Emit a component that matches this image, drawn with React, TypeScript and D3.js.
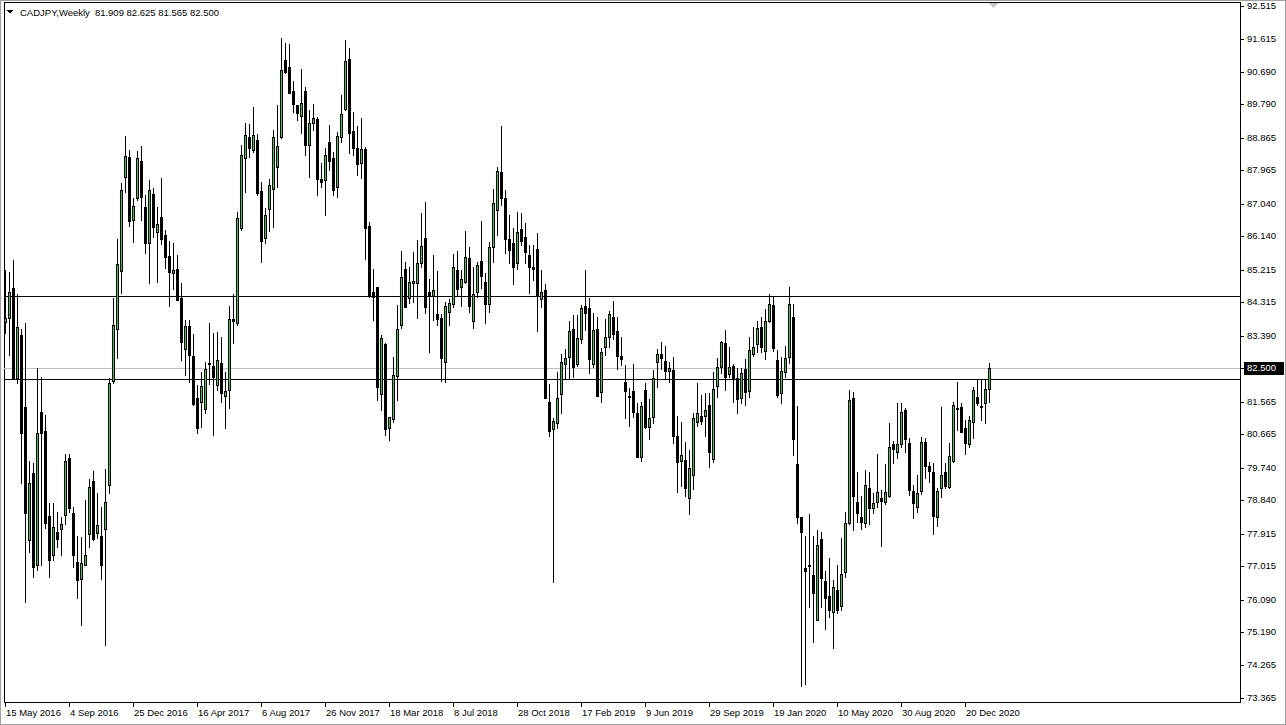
import * as d3 from 'd3'

const WIDTH = 1286
const HEIGHT = 725
const FONT = '"Liberation Sans", Arial, sans-serif'

const SYMBOL = 'CADJPY,Weekly'
const FIRST_WEEK = new Date(2016, 4, 15)

// Weekly OHLC, one entry per bar from 15 May 2016
const OPEN = [
  83.77, 83.89, 84.70, 82.21, 83.41, 81.41, 77.74, 79.60, 77.05, 81.27,
  80.75, 78.40, 77.32, 77.96, 78.03, 78.42, 80.00, 78.48, 77.12, 76.65,
  77.05, 77.90, 79.37, 77.93, 77.85, 78.05, 79.26, 82.15, 83.57, 85.19,
  87.79, 88.34, 86.59, 87.19, 88.23, 86.96, 85.97, 87.31, 86.27, 86.68,
  86.18, 85.60, 85.13, 85.23, 84.43, 83.02, 83.66, 82.84, 81.66, 81.57,
  81.35, 82.64, 82.55, 82.03, 82.63, 81.72, 81.89, 83.85, 83.75, 86.36,
  88.30, 88.90, 88.53, 88.81, 87.40, 86.09, 86.89, 87.44, 88.05, 88.88,
  91.02, 90.84, 90.17, 89.78, 89.47, 90.16, 88.67, 89.27, 89.38, 87.72,
  87.70, 88.74, 88.30, 87.51, 88.88, 89.67, 91.04, 89.06, 88.58, 88.18,
  88.56, 86.43, 84.59, 84.73, 81.78, 83.16, 80.83, 81.08, 82.27, 83.69,
  85.23, 84.43, 84.86, 84.86, 85.41, 86.09, 84.61, 84.49, 83.99, 83.87,
  82.67, 84.05, 84.27, 85.21, 84.75, 84.89, 85.53, 83.81, 84.61, 85.47,
  84.89, 84.26, 85.85, 86.87, 87.92, 87.20, 86.07, 85.97, 85.40, 86.33,
  86.11, 85.62, 85.28, 85.78, 84.40, 84.66, 81.56, 80.80, 80.98, 81.77,
  82.61, 82.81, 83.58, 82.60, 83.29, 84.21, 84.16, 82.62, 83.58, 81.82,
  83.09, 83.35, 83.90, 83.52, 82.83, 82.10, 81.72, 81.86, 81.24, 80.04,
  81.89, 80.86, 81.13, 82.67, 82.88, 82.69, 82.42, 82.44, 80.62, 79.92,
  79.95, 78.89, 79.55, 81.01, 81.17, 81.18, 81.47, 79.98, 82.00, 82.52,
  83.20, 82.32, 82.55, 82.21, 81.66, 82.47, 81.85, 82.89, 83.15, 83.62,
  82.98, 83.81, 84.24, 82.72, 81.80, 82.38, 82.81, 83.90, 79.84, 78.37,
  76.97, 77.05, 76.77, 75.52, 77.76, 76.60, 76.19, 75.74, 76.35, 75.92,
  76.84, 78.20, 81.66, 78.78, 78.38, 78.20, 79.17, 78.61, 78.80, 78.90,
  78.80, 78.95, 80.39, 80.16, 80.39, 81.34, 80.41, 79.09, 78.66, 79.09,
  80.44, 79.79, 79.61, 78.38, 79.17, 79.61, 79.21, 79.92, 81.38, 81.43,
  80.85, 80.39, 80.99, 81.70, 81.45, 81.52, 81.909,
]

const HIGH = [
  85.21, 85.16, 85.49, 84.54, 83.58, 83.73, 79.93, 79.86, 82.51, 82.26,
  81.20, 78.75, 78.75, 78.52, 78.38, 80.12, 80.12, 78.66, 77.85, 77.83,
  78.85, 79.42, 79.65, 79.04, 78.66, 79.69, 82.21, 84.43, 86.06, 87.62,
  88.93, 88.53, 87.19, 88.50, 88.64, 87.29, 87.70, 87.49, 86.94, 87.75,
  86.32, 86.02, 85.95, 85.62, 84.84, 83.83, 83.83, 83.44, 82.03, 82.39,
  82.67, 83.73, 83.46, 83.50, 83.36, 82.39, 84.21, 84.54, 86.82, 88.67,
  89.29, 89.24, 89.71, 88.97, 87.65, 86.92, 87.72, 89.08, 89.78, 91.62,
  91.50, 91.46, 90.45, 89.78, 90.76, 90.28, 89.64, 89.80, 89.45, 88.16,
  88.58, 89.22, 88.48, 89.04, 90.05, 91.57, 91.34, 89.59, 89.19, 89.41,
  88.62, 86.55, 85.23, 84.75, 83.41, 83.18, 81.15, 82.81, 84.24, 85.74,
  85.44, 85.30, 85.72, 86.04, 86.80, 87.10, 84.95, 85.62, 85.18, 83.99,
  84.33, 84.40, 85.65, 85.74, 85.21, 86.30, 85.85, 85.28, 85.44, 86.57,
  85.12, 85.99, 87.44, 88.05, 89.19, 87.42, 86.73, 86.37, 86.81, 86.79,
  86.50, 85.90, 85.90, 86.22, 85.21, 84.82, 82.05, 81.11, 82.39, 82.88,
  83.02, 83.80, 83.96, 83.96, 84.24, 85.21, 84.43, 84.01, 83.92, 83.04,
  83.84, 84.07, 84.35, 83.92, 83.35, 82.57, 81.94, 82.61, 81.54, 81.57,
  82.09, 81.63, 82.44, 83.02, 83.23, 83.11, 82.67, 82.79, 81.17, 80.99,
  80.46, 80.23, 81.24, 82.07, 81.75, 81.80, 81.80, 82.39, 82.77, 83.25,
  83.55, 83.09, 82.61, 82.49, 82.49, 82.75, 83.36, 83.64, 83.81, 83.90,
  84.12, 84.54, 84.45, 83.00, 82.79, 83.11, 84.75, 84.27, 81.45, 78.37,
  77.85, 78.46, 77.85, 78.01, 77.97, 76.89, 77.23, 76.63, 77.05, 77.80,
  78.52, 81.89, 81.84, 79.63, 78.95, 79.67, 79.63, 79.03, 80.12, 79.12,
  79.84, 80.97, 80.47, 81.54, 81.52, 81.38, 80.55, 79.26, 79.54, 80.60,
  80.55, 79.90, 79.86, 79.17, 81.43, 79.86, 80.41, 81.57, 82.10, 81.52,
  81.06, 81.17, 81.98, 82.17, 82.17, 82.17, 82.625,
]

const LOW = [
  83.47, 82.86, 82.21, 82.07, 79.31, 76.03, 77.41, 76.72, 76.91, 77.05,
  78.06, 76.72, 77.18, 77.55, 77.32, 78.18, 78.52, 77.00, 76.12, 75.38,
  77.05, 77.55, 77.74, 77.79, 76.65, 74.83, 79.03, 82.07, 82.77, 84.58,
  87.38, 86.43, 85.99, 87.15, 86.59, 85.69, 84.84, 86.13, 84.89, 85.93,
  85.26, 84.21, 84.67, 84.38, 82.72, 82.30, 82.12, 81.47, 80.69, 80.87,
  81.24, 82.05, 80.64, 81.89, 81.57, 80.83, 81.38, 83.18, 83.69, 86.32,
  87.38, 88.34, 88.48, 87.29, 85.44, 85.95, 86.30, 86.41, 87.51, 88.85,
  90.67, 90.10, 89.59, 89.36, 88.99, 88.39, 87.79, 89.08, 87.29, 87.51,
  86.73, 87.98, 87.29, 87.24, 88.76, 89.64, 88.46, 88.39, 87.84, 87.75,
  85.51, 84.47, 83.83, 81.61, 81.34, 80.64, 80.50, 81.01, 81.61, 83.60,
  84.19, 84.30, 84.33, 83.87, 85.28, 84.01, 82.95, 83.83, 83.69, 82.15,
  82.12, 83.69, 84.18, 84.52, 84.21, 84.86, 84.05, 83.60, 84.47, 84.70,
  83.73, 84.05, 85.44, 86.18, 87.01, 85.68, 85.40, 84.82, 85.24, 85.90,
  85.41, 84.58, 84.93, 83.53, 84.18, 81.66, 80.62, 76.58, 80.83, 81.26,
  82.21, 82.18, 82.24, 82.56, 83.20, 83.55, 82.37, 82.53, 81.73, 81.57,
  82.86, 83.07, 83.30, 82.46, 82.58, 81.10, 80.90, 81.15, 80.04, 79.93,
  80.83, 80.53, 80.97, 81.98, 82.46, 82.18, 82.10, 80.41, 79.06, 79.24,
  78.95, 78.46, 79.15, 80.89, 80.95, 80.62, 79.77, 79.89, 81.70, 82.37,
  81.89, 82.24, 81.57, 81.26, 81.54, 81.47, 81.70, 82.84, 82.95, 82.95,
  82.75, 83.78, 82.97, 81.69, 81.54, 82.24, 82.63, 80.09, 78.20, 73.70,
  73.75, 75.89, 74.92, 75.52, 75.89, 75.27, 75.61, 74.74, 75.73, 75.80,
  76.72, 78.18, 78.01, 78.24, 78.03, 78.11, 78.18, 78.49, 78.64, 77.58,
  78.73, 78.94, 79.86, 80.00, 80.32, 80.18, 78.98, 78.34, 78.52, 79.00,
  79.46, 79.35, 77.89, 78.13, 78.94, 79.17, 79.17, 79.90, 80.78, 80.72,
  80.11, 80.32, 80.55, 81.47, 81.06, 80.97, 81.565,
]

const CLOSE = [
  83.88, 84.59, 82.23, 83.62, 80.69, 78.48, 79.31, 76.98, 80.71, 80.71,
  78.20, 77.18, 78.09, 77.77, 78.18, 79.92, 78.63, 77.32, 76.63, 77.09,
  77.31, 79.20, 77.77, 78.15, 77.05, 78.80, 82.09, 83.69, 85.37, 87.42,
  88.37, 86.57, 86.98, 88.30, 87.22, 85.97, 87.42, 86.41, 86.48, 86.07,
  85.58, 85.16, 85.21, 84.38, 83.23, 83.66, 82.86, 81.50, 80.83, 82.00,
  82.46, 82.61, 82.26, 82.72, 81.81, 81.86, 83.84, 83.79, 86.64, 88.39,
  88.94, 88.58, 88.94, 87.33, 86.02, 86.73, 87.56, 88.88, 88.64, 90.74,
  90.70, 90.10, 89.80, 89.56, 89.84, 88.67, 89.27, 89.41, 87.72, 87.65,
  88.39, 88.23, 87.42, 88.92, 89.53, 90.99, 89.01, 88.58, 88.14, 88.56,
  86.36, 84.52, 84.47, 81.96, 83.32, 80.80, 81.15, 82.30, 83.57, 85.01,
  84.19, 84.89, 84.90, 85.40, 85.87, 84.19, 84.49, 84.66, 83.84, 82.77,
  84.21, 84.30, 85.28, 84.67, 84.95, 85.56, 84.21, 84.54, 85.35, 85.04,
  84.26, 85.85, 87.06, 87.96, 87.20, 86.07, 85.76, 85.28, 86.25, 86.02,
  85.72, 85.28, 85.24, 84.49, 84.60, 81.66, 80.76, 81.03, 81.66, 82.66,
  82.77, 83.51, 82.53, 83.33, 84.15, 84.03, 82.76, 83.55, 81.73, 82.93,
  83.36, 83.99, 83.44, 82.84, 82.74, 81.87, 81.69, 81.29, 80.04, 81.45,
  80.87, 81.11, 82.21, 82.88, 82.78, 82.42, 82.49, 80.62, 79.89, 80.09,
  79.18, 79.72, 81.11, 81.24, 81.04, 81.34, 80.16, 81.92, 82.52, 83.21,
  82.26, 82.52, 82.19, 81.63, 82.35, 81.84, 82.99, 83.07, 83.60, 83.07,
  83.81, 84.26, 83.04, 81.75, 82.41, 82.77, 84.26, 80.52, 78.37, 77.97,
  76.89, 77.03, 76.28, 77.60, 76.68, 76.12, 75.80, 76.45, 75.80, 76.79,
  78.20, 81.61, 78.96, 78.49, 78.24, 79.26, 78.61, 78.75, 79.06, 78.82,
  79.07, 80.30, 80.25, 80.39, 81.27, 80.52, 79.12, 78.75, 79.03, 80.44,
  79.79, 79.65, 78.41, 79.09, 79.55, 79.24, 80.06, 81.47, 81.35, 80.73,
  80.41, 81.06, 81.89, 81.52, 81.43, 81.92, 82.500,
]

const PRICE_TICKS = [
  92.515, 91.615, 90.690, 89.790, 88.865, 87.965, 87.040, 86.140, 85.215, 84.315,
  83.390, 82.490, 81.565, 80.665, 79.740, 78.840, 77.915, 77.015, 76.090, 75.190,
  74.265, 73.365,
]
const PRICE_MIN = 73.365
const PRICE_MAX = 92.515

// horizontal lines drawn on the chart
const LEVELS = [84.49, 82.19]
const LAST_PRICE = 82.5

const DATE_EVERY = 16

const BULL = '#32cd32'

export default function App() {
  const n = OPEN.length
  const plot = { left: 4, right: 1240, top: 2, bottom: 702 }

  const x = d3.scaleLinear().domain([0, n - 1]).range([5, 5 + 4 * (n - 1)])
  const y = d3.scaleLinear().domain([PRICE_MIN, PRICE_MAX]).range([698, 6])
  const fmtDate = d3.timeFormat('%-d %b %Y')
  const ry = (v: number) => Math.round(y(v))

  const dateTicks = d3.range(0, n, DATE_EVERY)
  const lastY = ry(LAST_PRICE)

  const header = [OPEN[n - 1], HIGH[n - 1], LOW[n - 1], CLOSE[n - 1]].map(v => v.toFixed(3)).join(' ')

  return (
    <div style={{ width: WIDTH, height: HEIGHT, background: '#fff' }}>
      <style>{'html,body{margin:0;padding:0;background:#fff;overflow:hidden}'}</style>
      <svg width={WIDTH} height={HEIGHT} style={{ display: 'block' }} shapeRendering="crispEdges">
        <rect x={0} y={0} width={WIDTH} height={HEIGHT} fill="#fff" />
        {/* window border */}
        <rect x={0.5} y={0.5} width={WIDTH - 1} height={HEIGHT - 1} fill="none" stroke="#a0a0a0" />

        {/* plot frame */}
        <rect
          x={plot.left + 0.5}
          y={plot.top + 0.5}
          width={plot.right - plot.left}
          height={plot.bottom - plot.top}
          fill="none"
          stroke="#000"
        />

        {/* levels */}
        {LEVELS.map(v => (
          <line key={v} x1={plot.left} x2={plot.right} y1={ry(v) + 0.5} y2={ry(v) + 0.5} stroke="#000" />
        ))}
        <line x1={plot.left} x2={plot.right} y1={lastY + 0.5} y2={lastY + 0.5} stroke="#c0c0c0" />

        {/* candles */}
        {OPEN.map((o, i) => {
          const c = CLOSE[i]
          const cx = Math.round(x(i))
          const top = ry(Math.max(o, c))
          const bot = ry(Math.min(o, c))
          const bull = c > o
          return (
            <g key={i}>
              <line x1={cx + 0.5} x2={cx + 0.5} y1={ry(HIGH[i])} y2={ry(LOW[i]) + 1} stroke="#000" />
              <rect x={cx - 1} y={top} width={3} height={Math.max(1, bot - top + 1)} fill="#000" />
              {bull && bot - top > 1 && (
                <rect x={cx} y={top + 1} width={1} height={bot - top - 1} fill={BULL} />
              )}
            </g>
          )
        })}

        {/* chart shift marker */}
        <polygon points="988,3 998,3 993,8" fill="#c8c8c8" />

        {/* price axis */}
        {PRICE_TICKS.map(v => (
          <g key={v}>
            <line x1={plot.right} x2={plot.right + 4} y1={ry(v) + 0.5} y2={ry(v) + 0.5} stroke="#000" />
            <text
              x={plot.right + 7}
              y={ry(v)}
              dy="0.35em"
              fontFamily={FONT}
              fontSize="9.5px"
              fill="#000"
            >
              {v.toFixed(3)}
            </text>
          </g>
        ))}
        <rect x={plot.right + 4} y={lastY - 6} width={40} height={13} fill="#000" />
        <text
          x={plot.right + 7}
          y={lastY}
          dy="0.35em"
          fontFamily={FONT}
          fontSize="9.5px"
          fill="#fff"
        >
          {LAST_PRICE.toFixed(3)}
        </text>

        {/* time axis */}
        {dateTicks.map(i => {
          const cx = Math.round(x(i))
          return (
            <g key={i}>
              <line x1={cx + 0.5} x2={cx + 0.5} y1={plot.bottom} y2={plot.bottom + 5} stroke="#000" />
              <text x={cx + 1} y={716} fontFamily={FONT} fontSize="9.5px" fill="#000">
                {fmtDate(d3.timeWeek.offset(FIRST_WEEK, i))}
              </text>
            </g>
          )
        })}

        {/* title */}
        <polygon points="7,10 13,10 10,14" fill="#000" />
        <text x={20} y={16} fontFamily={FONT} fontSize="9.5px" fill="#000">
          {SYMBOL}
          <tspan dx={5}>{header}</tspan>
        </text>
      </svg>
    </div>
  )
}
